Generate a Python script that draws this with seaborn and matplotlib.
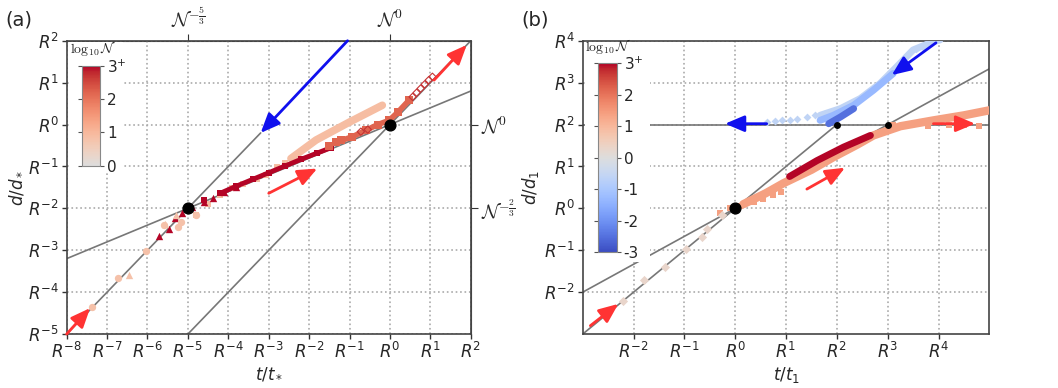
import numpy as np
import matplotlib
matplotlib.use("Agg")
import matplotlib.pyplot as plt
from matplotlib import colors, cm
import seaborn as sns

sns.set_style("white")
plt.rcParams["mathtext.fontset"] = "dejavusans"
plt.rcParams["font.family"] = ["DejaVu Sans"]

# ---------------- panel (a) data : log_R exponents ----------------
a_peach_band_x = [-2.45, -1.83, -1.0, -0.19]
a_peach_band_y = [-0.81, -0.37, 0.06, 0.46]
a_peach_sq_x = [-4.8, -4.5, -4.2, -3.9, -3.64, -3.3, -3.07, -2.8, -2.6]
a_peach_sq_y = [-2.16, -1.9, -1.68, -1.52, -1.42, -1.3, -1.2, -1.02, -0.92]
a_peach_logN = 0.9

a_dark_x = [-5.0, -4.6, -4.2, -3.8, -3.4, -3.0, -2.6, -2.2, -1.8, -1.45]
a_dark_y = [-1.97, -1.8, -1.64, -1.47, -1.31, -1.15, -0.99, -0.83, -0.68, -0.55]
a_dark_logN = 3.0

a_mid_x = [-1.5, -1.34, -1.2, -0.93, -0.6, -0.3, -0.02, 0.2, 0.47]
a_mid_y = [-0.52, -0.41, -0.38, -0.29, -0.14, 0.0, 0.1, 0.3, 0.58]
a_mid_logN = 2.2

a_hollow_x = [-0.72, -0.55, 0.56, 0.66, 0.76, 0.86, 0.96, 1.05]
a_hollow_y = [-0.17, -0.12, 0.66, 0.76, 0.86, 0.96, 1.06, 1.14]
a_hollow_logN = 2.7

a_tri_x = [-5.71, -5.47, -5.31, -5.15, -4.9, -4.6, -4.38, -4.1, -3.8]
a_tri_y = [-2.66, -2.5, -2.22, -2.1, -1.97, -1.85, -1.76, -1.62, -1.5]
a_tri_logN = 3.0

a_ltri_x = [-6.45, -5.57, -5.3]
a_ltri_y = [-3.58, -2.38, -2.15]
a_circ_x = [-7.38, -6.73, -6.04, -5.58, -5.24, -5.16, -4.79]
a_circ_y = [-4.35, -3.67, -3.02, -2.4, -2.45, -2.32, -2.16]
a_light_logN = 0.8

a_guides = [((-8, -5), (-3.2, -0.2)), ((-8, -3.2), (2, 0.8)), ((-5, -5), (2, 2))]
a_dots = [(-5, -2), (0, 0)]
a_red_arrows = [((-8.0, -5.0), (-7.42, -4.38)), ((-3.0, -1.64), (-1.8, -1.05)), ((1.09, 1.06), (1.9, 1.9))]
a_blue_arrows = [((-1.05, 2.0), (-3.2, -0.2))]

# ---------------- panel (b) data ----------------
b_lblue_band_x = [4.03, 3.9, 3.5, 3.18, 2.85, 2.46, 2.07, 1.67]
b_lblue_band_y = [4.02, 3.98, 3.78, 3.38, 2.98, 2.62, 2.38, 2.22]
b_lblue_logN = -0.6
b_lblue_pts_x = [0.62, 0.79, 0.92, 1.07, 1.21, 1.41, 1.57, 1.74, 1.9, 3.7, 3.55]
b_lblue_pts_y = [2.06, 2.08, 2.1, 2.12, 2.14, 2.17, 2.22, 2.26, 2.3, 3.86, 3.8]

b_mblue_x = [3.11, 2.72, 2.33, 1.93, 1.67]
b_mblue_y = [3.22, 2.82, 2.46, 2.22, 2.1]
b_mblue_logN = -1.3

b_dblue_x = [2.33, 2.07, 1.84]
b_dblue_y = [2.38, 2.18, 2.02]
b_dblue_logN = -2.5

b_dred_x = [1.07, 1.61, 2.13, 2.66]
b_dred_y = [0.76, 1.14, 1.46, 1.74]
b_dred_logN = 3.0

b_salmon_x = [0.16, 0.6, 0.95, 1.5, 1.93, 2.4, 2.72, 3.25, 3.9, 4.5, 5.0]
b_salmon_y = [0.1, 0.36, 0.6, 0.92, 1.22, 1.52, 1.74, 1.96, 2.1, 2.22, 2.34]
b_salmon_logN = 1.4
b_salmon_pts_x = [3.1, 3.4, 3.8, 4.2, 4.5, 4.8, -0.3, -0.1, 0.1, 0.36, 0.55, 0.75, 0.9]
b_salmon_pts_y = [1.98, 1.98, 1.97, 1.98, 1.98, 1.97, -0.12, 0.0, 0.05, 0.15, 0.22, 0.31, 0.4]

b_pink_x = [-2.2, -1.79, -1.38, -0.97, -0.66, -0.55, -0.26]
b_pink_y = [-2.2, -1.72, -1.39, -0.97, -0.69, -0.49, -0.17]
b_pink_logN = 0.3

b_guides = [((-3, -3), (2, 2)), ((-3, -2), (5, 3.33)), ((-3, 2), (5, 2))]
b_big_dots = [(0, 0)]
b_small_dots = [(2, 2), (3, 2)]
b_red_arrows = [((-2.85, -2.8), (-2.3, -2.28)), ((1.41, 0.46), (2.16, 0.97)), ((3.9, 2.02), (4.72, 2.02))]
b_blue_arrows = [((3.95, 3.95), (3.08, 3.18)), ((0.62, 2.02), (-0.2, 2.02))]

# ---------------- figure ----------------
cmapA = colors.ListedColormap(plt.cm.coolwarm(np.linspace(0.5, 1, 256)))
normA = colors.Normalize(0, 3)
cmapB = plt.cm.coolwarm
normB = colors.Normalize(-3, 3)

fig = plt.figure(figsize=(10.58, 3.88), dpi=100)
axA = fig.add_axes([0.063, 0.139, 0.382, 0.756])
axB = fig.add_axes([0.5508, 0.139, 0.3843, 0.756])

GRAY = "#777777"
RED = "#ff3333"
BLUE = "#1010ee"


def band(ax, x, y, c, lw=5):
    sns.lineplot(x=x, y=y, sort=False, estimator=None, color=c, lw=lw,
                 solid_capstyle="round", ax=ax, zorder=3)


def pts(ax, x, y, c, marker="s", s=20, **kw):
    sns.scatterplot(x=x, y=y, color=c, marker=marker, s=s, linewidth=0, ax=ax, zorder=3, **kw)


def arrows(ax, lst, c):
    for tail, tip in lst:
        ax.annotate("", xy=tip, xytext=tail, zorder=6,
                    arrowprops=dict(arrowstyle="-|>,head_length=0.9,head_width=0.38",
                                    color=c, lw=2, mutation_scale=13, shrinkA=0, shrinkB=0))


def guides(ax, lst):
    for p0, p1 in lst:
        sns.lineplot(x=[p0[0], p1[0]], y=[p0[1], p1[1]], color=GRAY, lw=1.2, ax=ax, zorder=2)


# panel (a)
guides(axA, a_guides)
cA = lambda v: cmapA(normA(v))
pts(axA, a_peach_sq_x, a_peach_sq_y, cA(a_peach_logN), s=20)
band(axA, a_peach_band_x, a_peach_band_y, cA(a_peach_logN), lw=5.5)
band(axA, a_dark_x[2:], a_dark_y[2:], cA(a_dark_logN), lw=3.5)
pts(axA, a_dark_x, a_dark_y, cA(a_dark_logN), s=16)
band(axA, a_mid_x[1:], a_mid_y[1:], cA(a_mid_logN), lw=4)
pts(axA, a_mid_x, a_mid_y, cA(a_mid_logN), s=34)
axA.scatter(a_hollow_x, a_hollow_y, marker="D", s=14, facecolors="none",
            edgecolors=cA(a_hollow_logN), linewidths=0.8, zorder=3)
pts(axA, a_tri_x, a_tri_y, cA(a_tri_logN), marker="^", s=28)
pts(axA, a_ltri_x, a_ltri_y, cA(a_light_logN), marker="^", s=28)
pts(axA, a_circ_x, a_circ_y, cA(a_light_logN), marker="o", s=28)
axA.scatter(*zip(*a_dots), s=60, color="black", zorder=5)
arrows(axA, a_red_arrows, RED)
arrows(axA, a_blue_arrows, BLUE)

# panel (b)
guides(axB, b_guides)
cB = lambda v: cmapB(normB(v))
band(axB, b_lblue_band_x, b_lblue_band_y, cB(b_lblue_logN), lw=5)
pts(axB, b_lblue_pts_x, b_lblue_pts_y, cB(b_lblue_logN), marker="D", s=16)
band(axB, b_mblue_x, b_mblue_y, cB(b_mblue_logN), lw=5)
band(axB, b_dblue_x, b_dblue_y, cB(b_dblue_logN), lw=5)
band(axB, b_salmon_x, b_salmon_y, cB(b_salmon_logN), lw=6)
pts(axB, b_salmon_pts_x, b_salmon_pts_y, cB(b_salmon_logN), s=18)
band(axB, b_dred_x, b_dred_y, cB(b_dred_logN), lw=5)
pts(axB, b_pink_x, b_pink_y, cB(b_pink_logN), marker="D", s=22)
axB.scatter(*zip(*b_big_dots), s=60, color="black", zorder=5)
axB.scatter(*zip(*b_small_dots), s=16, color="black", zorder=5)
arrows(axB, b_red_arrows, RED)
arrows(axB, b_blue_arrows, BLUE)

# axes cosmetics
for ax, xl, yl, xt, yt, xlab, ylab in [
    (axA, (-8, 2), (-5, 2), range(-8, 3), range(-5, 3), r"$t/t_*$", r"$d/d_*$"),
    (axB, (-3, 5), (-3, 4), range(-2, 5), range(-2, 5), r"$t/t_1$", r"$d/d_1$"),
]:
    ax.set_xlim(*xl)
    ax.set_ylim(*yl)
    ax.set_xticks(list(xt), [rf"$R^{{{k}}}$" for k in xt])
    ax.set_yticks(list(yt), [rf"$R^{{{k}}}$" for k in yt])
    ax.grid(True, ls=":", color="#aaaaaa", lw=1.2)
    ax.tick_params(direction="out", length=3.5, width=1, color="#333333",
                   labelsize=12, left=True, bottom=True, pad=2)
    for sp in ax.spines.values():
        sp.set_color("#444444")
        sp.set_linewidth(1.2)
    ax.set_xlabel(xlab, fontsize=12, labelpad=2)
    ax.set_ylabel(ylab, fontsize=12, labelpad=2)

top = axA.secondary_xaxis("top")
top.set_xticks([-5, 0], [r"$\mathcal{N}^{-\frac{5}{3}}$", r"$\mathcal{N}^{0}$"],
               math_fontfamily="cm", fontsize=14)
top.tick_params(direction="out", length=5, color="#333333", pad=2)
right = axA.secondary_yaxis("right")
right.set_yticks([0, -2], [r"$\mathcal{N}^{0}$", r"$\mathcal{N}^{-\frac{2}{3}}$"],
                 math_fontfamily="cm", fontsize=14)
right.tick_params(direction="out", length=5, color="#333333", pad=2)
for sec in (top, right):
    for sp in sec.spines.values():
        sp.set_color("#444444")

# insets (white cover + colorbars)
W, H = 1058, 388
insA = fig.add_axes([69 / W, 1 - 172 / H, 54 / W, 130 / H])
insA.axis("off")
insA.add_patch(plt.Rectangle((0, 0), 1, 1, color="white", transform=insA.transAxes))
insB = fig.add_axes([585 / W, 1 - 262 / H, 65 / W, 220 / H])
insB.axis("off")
insB.add_patch(plt.Rectangle((0, 0), 1, 1, color="white", transform=insB.transAxes))

caxA = fig.add_axes([81.7 / W, 1 - 165.7 / H, 18.3 / W, 99.7 / H])
cbA = fig.colorbar(cm.ScalarMappable(norm=normA, cmap=cmapA), cax=caxA)
cbA.set_ticks([0, 1, 2, 3], labels=["0", "1", "2", r"3$^{+}$"])
caxB = fig.add_axes([598.3 / W, 1 - 252.3 / H, 18.4 / W, 189 / H])
cbB = fig.colorbar(cm.ScalarMappable(norm=normB, cmap=cmapB), cax=caxB)
cbB.set_ticks([-3, -2, -1, 0, 1, 2, 3], labels=["-3", "-2", "-1", "0", "1", "2", r"3$^{+}$"])
for cb in (cbA, cbB):
    cb.outline.set_edgecolor("#888888")
    cb.ax.tick_params(labelsize=11, length=3, left=True, right=True, color="#555555", pad=2)

fig.text(93 / W, 1 - 49 / H, r"$\log_{10}\mathcal{N}$", ha="center", va="center",
         fontsize=10, math_fontfamily="cm")
fig.text(608 / W, 1 - 46 / H, r"$\log_{10}\mathcal{N}$", ha="center", va="center",
         fontsize=10, math_fontfamily="cm")

fig.text(5 / W, 1 - 20 / H, "(a)", fontsize=14, va="center")
fig.text(521 / W, 1 - 20 / H, "(b)", fontsize=14, va="center")

fig.savefig("out.png", dpi=100)
